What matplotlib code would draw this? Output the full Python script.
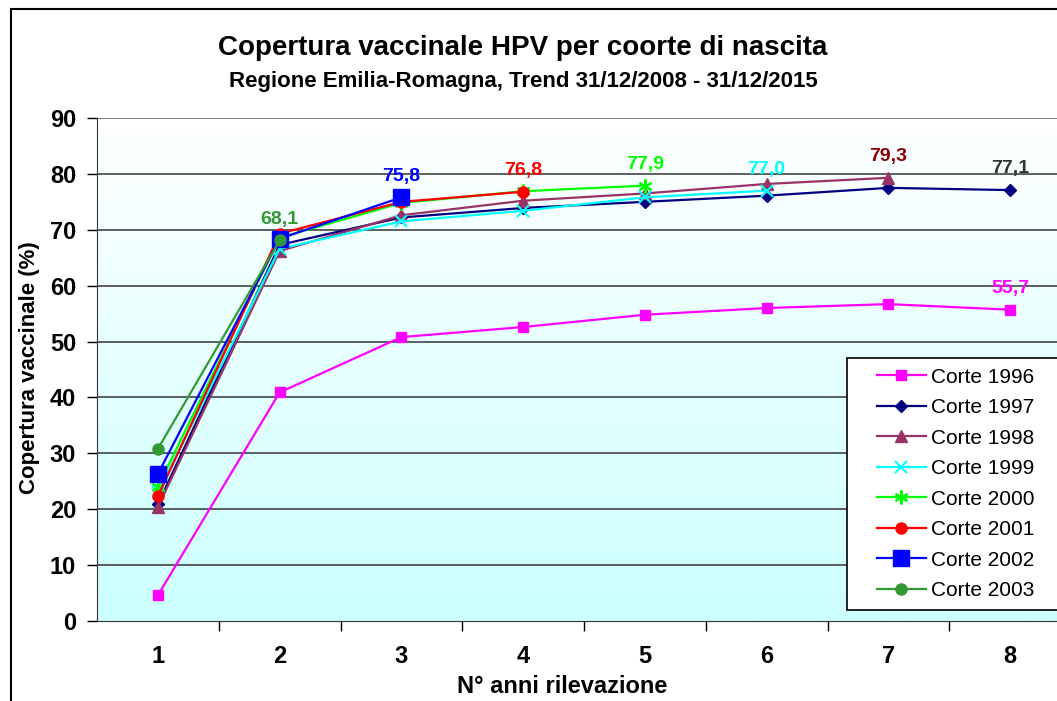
import numpy as np
import matplotlib
matplotlib.use("Agg")
import matplotlib.pyplot as plt
from matplotlib.patches import Rectangle

plt.rcParams['font.family'] = ['Liberation Sans', 'DejaVu Sans']

anni = [1, 2, 3, 4, 5, 6, 7, 8]

coorti = ["Corte 1996", "Corte 1997", "Corte 1998", "Corte 1999",
          "Corte 2000", "Corte 2001", "Corte 2002", "Corte 2003"]
c1996 = [4.6, 40.9, 50.8, 52.6, 54.8, 56.0, 56.7, 55.7]
c1997 = [20.9, 67.3, 72.2, 73.9, 75.0, 76.1, 77.5, 77.1]
c1998 = [20.4, 66.2, 72.6, 75.2, 76.5, 78.2, 79.3]
c1999 = [23.0, 66.6, 71.5, 73.4, 75.8, 77.0]
c2000 = [24.0, 68.6, 74.8, 76.9, 77.9]
c2001 = [22.3, 69.3, 75.0, 76.8]
c2002 = [26.3, 68.4, 75.8]
c2003 = [30.8, 68.1]
serie = [c1996, c1997, c1998, c1999, c2000, c2001, c2002, c2003]

colori = ['#ff00ff', '#000080', '#993366', '#00ffff',
          '#00ff00', '#ff0000', '#0000ff', '#339933']
marcatori = ['s', 'D', '^', 'x', (6, 2, 0), 'o', 's', 'o']
dimensioni = [7, 6, 9, 9, 10, 8, 12, 8]
colori_etichette = ['#ff00ff', '#333333', '#8b0000', '#00ffff',
                    '#00ff00', '#ff0000', '#0000ff', '#339933']

fig = plt.figure(figsize=(10.57, 7.01), dpi=100)
ax = fig.add_axes([97 / 1057, 80 / 701, 974 / 1057, 503 / 701])

# sfondo sfumato
grad = np.linspace(0, 1, 256).reshape(-1, 1)
top = np.array([1.0, 1.0, 1.0])
bot = np.array([0.80, 1.0, 1.0])
img = top + (bot - top) * grad[:, :, None]
ax.imshow(img, extent=[0.5, 8.5, 0, 90], aspect='auto', zorder=0, origin='upper')

for v in range(10, 90, 10):
    ax.axhline(v, color='#333333', lw=1.1, zorder=1)
ax.axhline(90, color='#555555', lw=1.1, zorder=1)

for i, s in enumerate(serie):
    kw = dict(mec=colori[i], mfc=colori[i])
    if marcatori[i] == 'x' or marcatori[i] == (6, 2, 0):
        kw['mew'] = 1.5
    ax.plot(anni[:len(s)], s, color=colori[i], lw=1.6, marker=marcatori[i],
            ms=dimensioni[i], label=coorti[i], zorder=3 + i, **kw)
    ax.text(anni[len(s) - 1], s[-1] + 2.3, f"{s[-1]:.1f}".replace('.', ','),
            color=colori_etichette[i], fontsize=14, fontweight='bold',
            ha='center', va='bottom', zorder=20)

ax.set_xlim(0.5, 8.5)
ax.set_ylim(0, 90)
ax.set_yticks(range(0, 91, 10))
ax.set_xticks(anni)
ax.set_xticks(np.arange(1.5, 8.5, 1), minor=True)
ax.tick_params(axis='x', which='major', length=0, pad=17, labelsize=17)
ax.tick_params(axis='x', which='minor', length=7, width=1, direction='out')
ax.tick_params(axis='y', length=7, width=1, direction='out', labelsize=17, pad=8)
for t in ax.get_xticklabels() + ax.get_yticklabels():
    t.set_fontweight('bold')
for sp in ['top', 'right']:
    ax.spines[sp].set_visible(False)
ax.spines['left'].set_color('#333333')
ax.spines['bottom'].set_color('#333333')

fig.text(523 / 1057, 1 - 48 / 701,
         "Copertura vaccinale HPV per coorte di nascita",
         ha='center', va='center', fontsize=20, fontweight='bold')
fig.text(523 / 1057, 1 - 81 / 701,
         "Regione Emilia-Romagna, Trend 31/12/2008 - 31/12/2015",
         ha='center', va='center', fontsize=16, fontweight='bold')
fig.text(562 / 1057, 1 - 693 / 701, "N° anni rilevazione",
         ha='center', va='baseline', fontsize=17, fontweight='bold')
fig.text(30 / 1057, 1 - 368 / 701, "Copertura vaccinale (%)", rotation=90,
         ha='center', va='center', fontsize=16, fontweight='bold')

leg = ax.legend(loc='lower left', bbox_to_anchor=(877 / 1057, 101 / 701),
                bbox_transform=fig.transFigure, fontsize=15, frameon=False,
                borderaxespad=0, borderpad=0, labelspacing=0.55,
                handlelength=2.35, handletextpad=0.25)
leg.set_zorder(30)

# cornice della legenda
ax.add_patch(Rectangle((847 / 1057, 91 / 701), 230 / 1057, 252 / 701,
                       transform=fig.transFigure, facecolor='white',
                       edgecolor='black', lw=1.2, zorder=25, clip_on=False))

# cornice della figura
fig.patches.append(Rectangle((11 / 1057, -0.1), 1.2, 1 - 9 / 701 + 0.1,
                             transform=fig.transFigure, fill=False,
                             edgecolor='black', lw=1.5, zorder=0))

fig.savefig("out.png", dpi=100)
